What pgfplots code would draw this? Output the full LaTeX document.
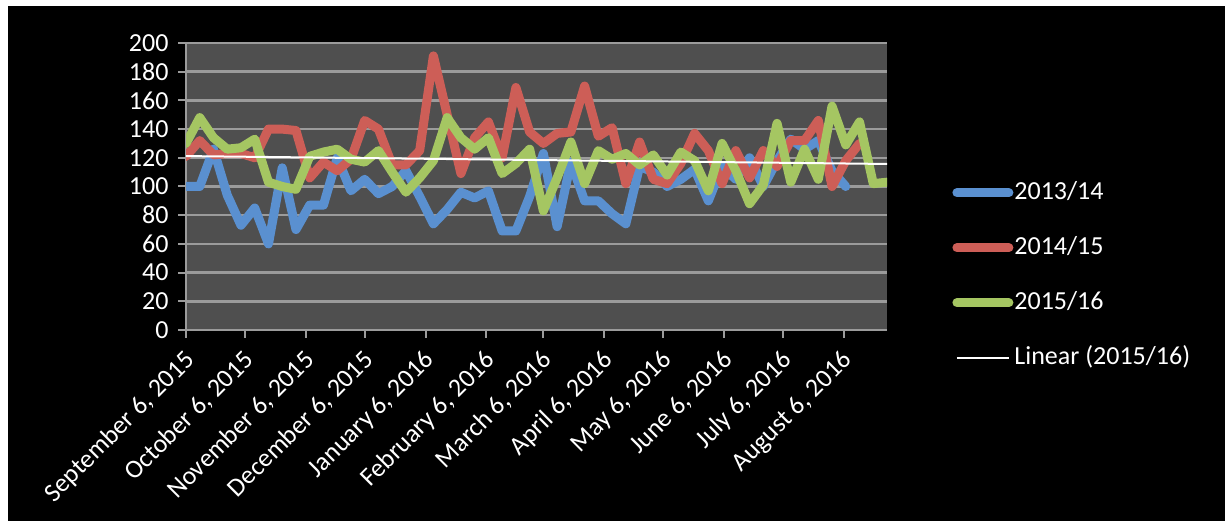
\documentclass[border=0pt]{standalone}
\usepackage{fontspec}
\setmainfont{Carlito}
\usepackage{pgfplots}
\pgfplotsset{compat=1.18}
\usepackage{pgfplotstable}

\definecolor{plotbg}{RGB}{79,79,79}
\definecolor{gridgray}{RGB}{155,155,155}
\definecolor{sblue}{RGB}{90,144,208}
\definecolor{sred}{RGB}{205,94,87}
\definecolor{sgreen}{RGB}{165,198,98}

% weekly values, x = days after September 6, 2015
\pgfplotstableread{
day val
0 100
7 100
14 126
21 94
28 73
35 85
42 60
49 113
56 70
63 87
70 87
77 120
84 97
91 105
98 95
105 100
112 111
119 93
126 74
133 84
140 96
147 92
154 97
161 69
168 69
175 93
182 123
189 72
196 117
203 90
210 90
217 81
224 74
231 114
238 110
245 100
252 105
259 112
266 90
273 114
280 105
287 120
294 100
301 118
308 133
315 126
322 132
329 111
336 100
}\blue

\pgfplotstableread{
day val
0 121
7 132
14 122
21 123
28 123
35 120
42 140
49 140
56 139
63 106
70 117
77 111
84 119
91 146
98 140
105 115
112 115
119 125
126 191
133 150
140 109
147 134
154 145
161 120
168 169
175 138
182 130
189 137
196 138
203 170
210 135
217 141
224 102
231 131
238 105
245 102
252 116
259 137
266 125
273 102
280 125
287 106
294 125
301 114
308 132
315 132
322 146
329 100
336 118
343 130
}\red

\pgfplotstableread{
day val
0 130
7 148
14 134
21 126
28 127
35 133
42 103
49 100
56 98
63 121
70 124
77 126
84 119
91 117
98 125
105 110
112 96
119 106
126 118
133 148
140 134
147 126
154 134
161 109
168 116
175 126
182 83
189 106
196 131
203 102
210 125
217 119
224 123
231 115
238 122
245 108
252 124
259 118
266 97
273 130
280 111
287 88
294 101
301 144
308 103
315 126
322 105
329 156
336 129
343 145
350 102
357 103
}\green

\begin{document}
\begin{tikzpicture}
\fill[white] (0pt,0pt) rectangle (1225pt,529pt);
\fill[black] (8pt,8pt) rectangle (1225pt,523pt);
\begin{axis}[
  at={(186pt,199pt)}, anchor=south west,
  scale only axis, width=701pt, height=287pt,
  xmin=0, xmax=357, ymin=0, ymax=200,
  axis background/.style={fill=plotbg},
  axis x line*=bottom, axis y line*=left,
  axis line style={draw=gridgray, line width=2pt},
  ymajorgrids, grid style={draw=gridgray, line width=2.5pt},
  tick align=outside, major tick length=8pt,
  tick style={draw=gridgray, line width=2pt},
  ytick={0,20,...,200},
  xtick={0,30,61,91,122,153,182,213,243,274,304,335},
  xticklabels={{September 6, 2015},{October 6, 2015},{November 6, 2015},
    {December 6, 2015},{January 6, 2016},{February 6, 2016},{March 6, 2016},
    {April 6, 2016},{May 6, 2016},{June 6, 2016},{July 6, 2016},{August 6, 2016}},
  /pgf/number format/assume math mode=true,
  ticklabel style={text=white, font=\fontsize{26}{30}\selectfont},
  yticklabel style={xshift=-6pt},
  xticklabel style={xshift=-3pt, yshift=-9pt, rotate=45, anchor=north east, inner sep=1pt},
  legend cell align=left,
  legend image code/.code={\draw[#1] (0pt,0pt) -- (52pt,0pt);},
  legend style={at={(1.093,0.526)}, anchor=north west, draw=none, fill=none,
    inner sep=0pt, text=white, font=\fontsize{26}{30}\selectfont,
    row sep=28pt,
    nodes={inner sep=1pt, text height=19pt, text depth=6pt},
    /tikz/every odd column/.append style={column sep=0pt}},
]
\addplot[sblue, line width=9pt, line cap=round, line join=round] table[x=day, y=val] {\blue};
\addlegendentry{2013/14}
\addplot[sred, line width=9pt, line cap=round, line join=round] table[x=day, y=val] {\red};
\addlegendentry{2014/15}
\addplot[sgreen, line width=9pt, line cap=round, line join=round] table[x=day, y=val] {\green};
\addlegendentry{2015/16}
\addplot[white, line width=2pt] coordinates {(0,121.2) (357,115.7)};
\addlegendentry{Linear (2015/16)}
\end{axis}
\end{tikzpicture}
\end{document}
